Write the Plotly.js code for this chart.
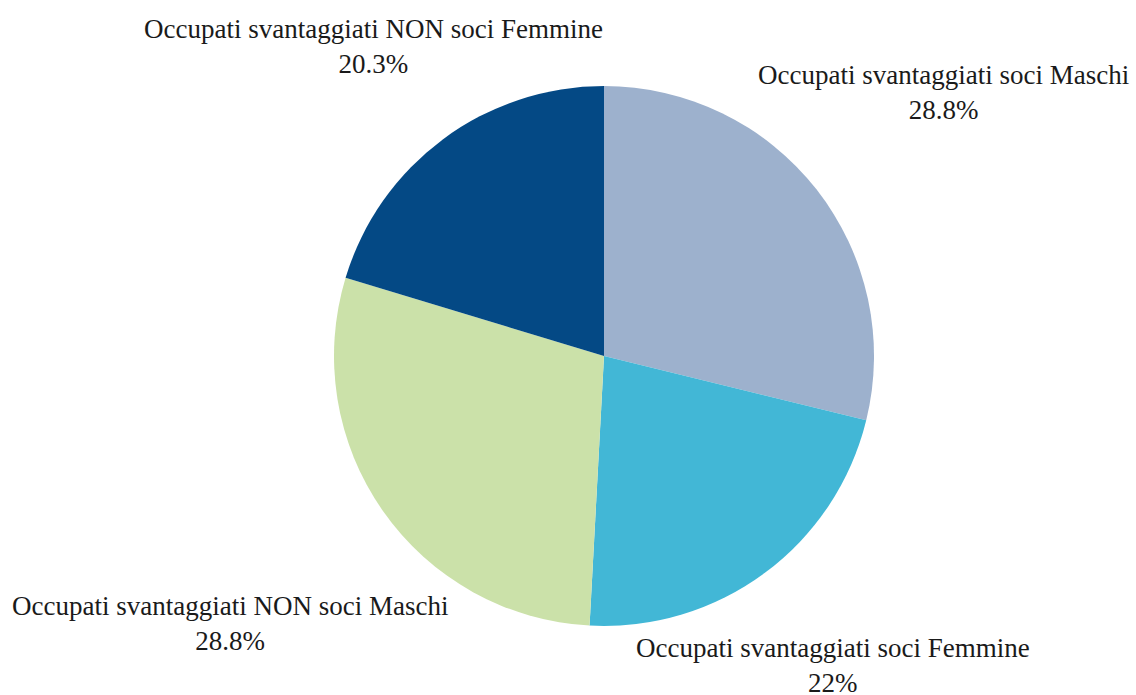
<!DOCTYPE html>
<html>
<head>
<meta charset="utf-8">
<script src="https://cdn.plot.ly/plotly-3.0.1.min.js"></script>
<style>html,body{margin:0;padding:0;background:#fff;}#chart{width:1136px;height:695px;}</style>
</head>
<body>
<div id="chart"></div>
<script>
const labels = [
  "Occupati svantaggiati soci Maschi",
  "Occupati svantaggiati soci Femmine",
  "Occupati svantaggiati NON soci Maschi",
  "Occupati svantaggiati NON soci Femmine"
];
const values = [28.8, 22, 28.8, 20.3];
const colors = ["#9db1cd", "#42b7d6", "#cbe1a9", "#044985"];

const W = 1136, H = 695;
const cx = 604, cy = 356, r = 270;

// label block centres (pixels) for each slice, same order as labels
const labelPos = [[943, 92], [833, 665], [230, 623], [373, 47]];

const total = values.reduce((a, b) => a + b, 0);
function fmtPct(v) {
  let s = (v / total * 100).toPrecision(3);
  if (s.indexOf(".") >= 0) s = s.replace(/0+$/, "").replace(/\.$/, "");
  return s + "%";
}

const FONT = "Liberation Serif, Times New Roman, serif";

const trace = {
  type: "pie",
  labels: labels,
  values: values,
  sort: false,
  direction: "clockwise",
  rotation: 0,
  marker: {colors: colors, line: {width: 0}},
  textinfo: "none",
  showlegend: false,
  hoverinfo: "label+percent",
  domain: {
    x: [(cx - r) / W, (cx + r) / W],
    y: [(H - cy - r) / H, (H - cy + r) / H]
  }
};

const annotations = labels.map((lab, i) => ({
  xref: "paper", yref: "paper",
  x: labelPos[i][0] / W, y: 1 - labelPos[i][1] / H,
  xanchor: "center", yanchor: "middle",
  align: "center",
  showarrow: false,
  text: lab + "<br>" + fmtPct(values[i]),
  font: {family: FONT, size: 27, color: "#1a1a1a"}
}));

const layout = {
  width: W, height: H,
  margin: {l: 0, r: 0, t: 0, b: 0},
  paper_bgcolor: "#fff",
  showlegend: false,
  font: {family: FONT, size: 27, color: "#1a1a1a"},
  annotations: annotations
};

Plotly.newPlot("chart", [trace], layout, {displayModeBar: false, staticPlot: true});
</script>
</body>
</html>
